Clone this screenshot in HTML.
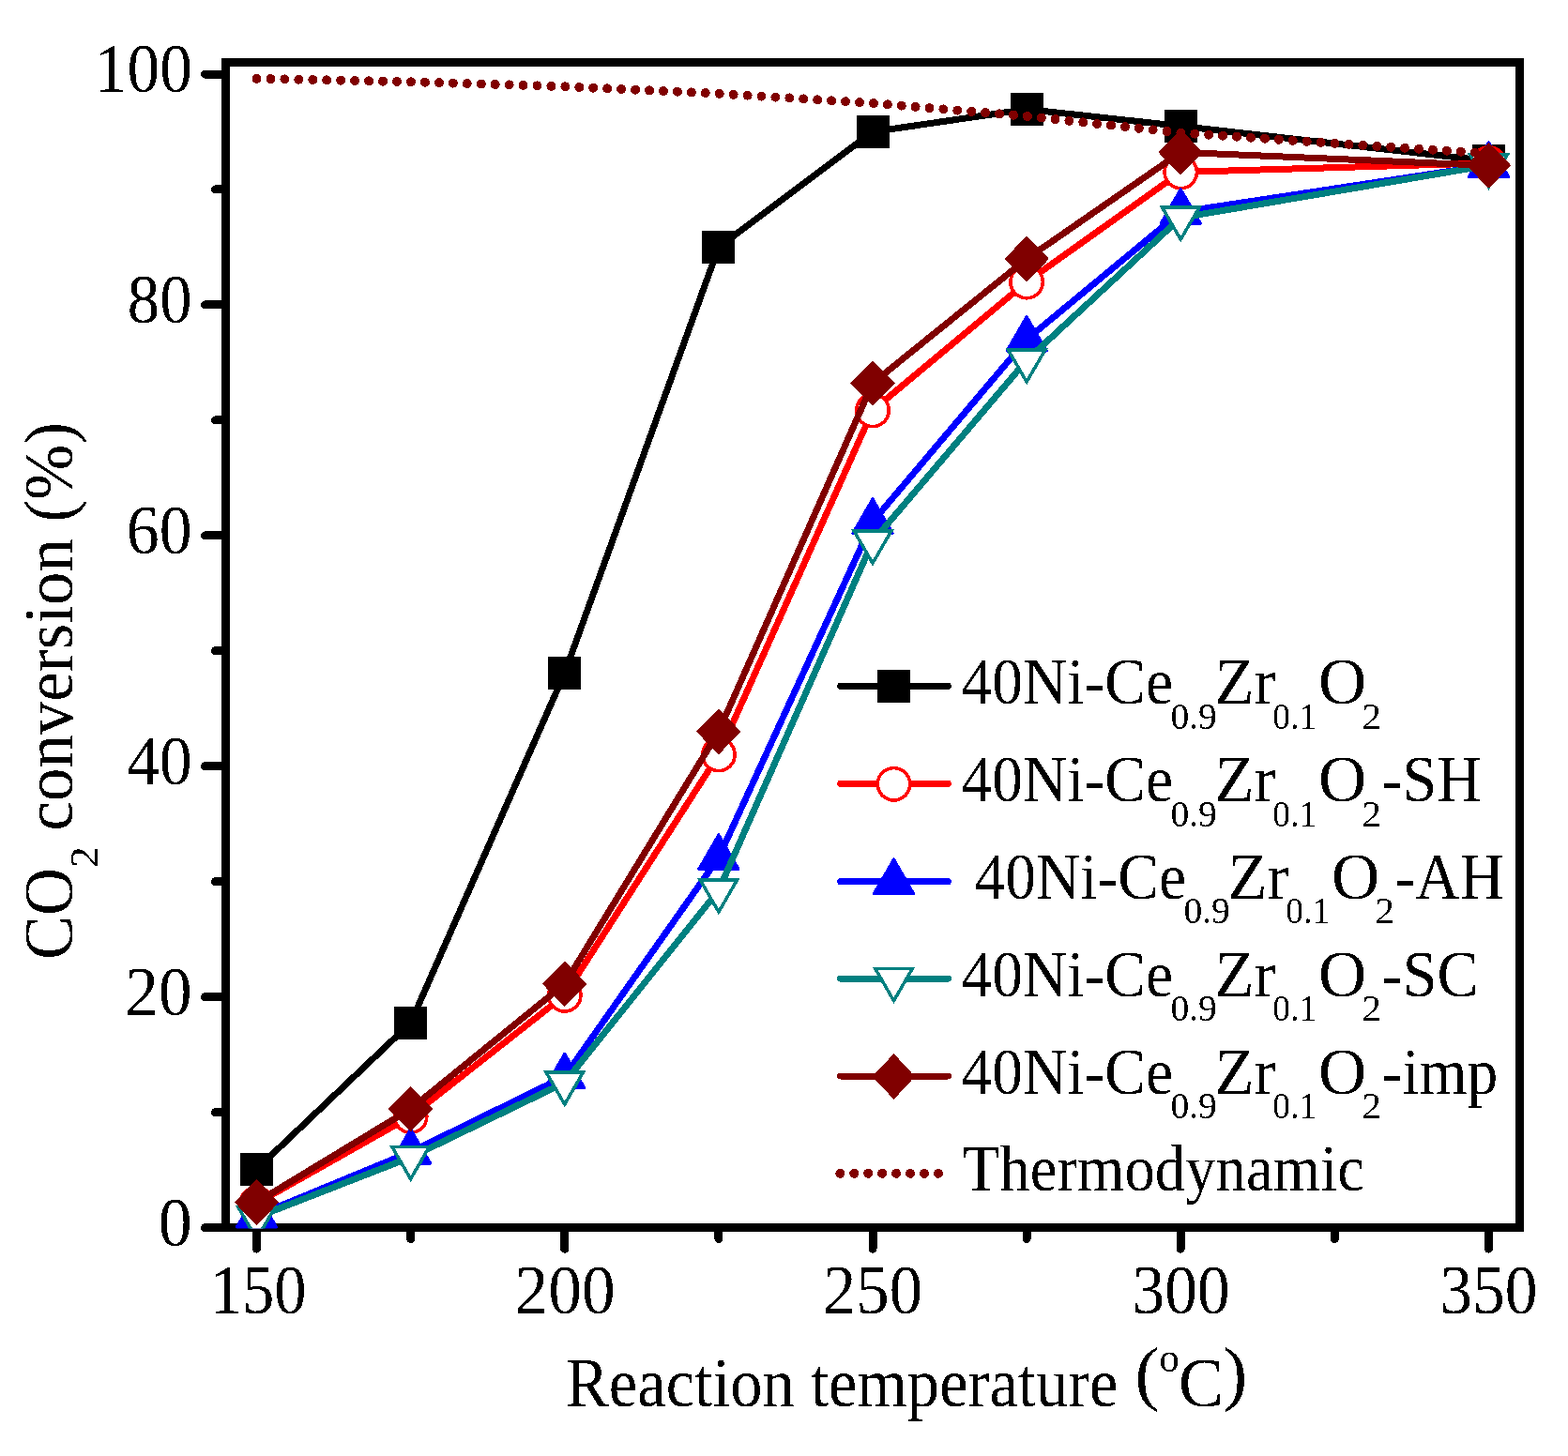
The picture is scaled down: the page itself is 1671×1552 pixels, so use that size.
<!DOCTYPE html><html><head><meta charset="utf-8"><title>CO2 conversion vs reaction temperature</title><style>html,body{margin:0;padding:0;background:#fff;overflow:hidden}svg{display:block}</style></head><body><svg width="1671" height="1552" viewBox="0 0 1671 1552" shape-rendering="crispEdges">
<rect width="100%" height="100%" fill="#fff"/>
<defs><filter id="bin" x="0" y="0" width="1671" height="1552" filterUnits="userSpaceOnUse"><feComponentTransfer><feFuncA type="discrete" tableValues="0 1"/></feComponentTransfer></filter><clipPath id="cp"><rect x="240.5" y="66.5" width="1379.0" height="1243.1"/></clipPath></defs>
<rect x="240.5" y="66.5" width="1379.0" height="1242.0" fill="none" stroke="#000" stroke-width="9" stroke-linejoin="miter"/>
<path d="M218.5,1308.6H240.5M229.5,1185.64H240.5M218.5,1062.68H240.5M229.5,939.72H240.5M218.5,816.76H240.5M229.5,693.8H240.5M218.5,570.84H240.5M229.5,447.88H240.5M218.5,324.92H240.5M229.5,201.96H240.5M218.5,79H240.5M273.5,1308.5V1331.2M437.62,1308.5V1320.5M601.75,1308.5V1331.2M765.88,1308.5V1320.5M930,1308.5V1331.2M1094.12,1308.5V1320.5M1258.25,1308.5V1331.2M1422.38,1308.5V1320.5M1586.5,1308.5V1331.2" stroke="#000" stroke-width="9" stroke-linecap="round" fill="none"/>
<g clip-path="url(#cp)">
<polyline points="273.5,1246.26 437.62,1090.35 601.75,717.41 765.88,263.44 930,140.48 1094.12,116.5 1258.25,134.45 1586.5,171.59" fill="none" stroke="#000000" stroke-width="7" stroke-linejoin="round" stroke-linecap="round"/>
<rect x="256" y="1228.76" width="35" height="35"/>
<rect x="420.12" y="1072.85" width="35" height="35"/>
<rect x="584.25" y="699.91" width="35" height="35"/>
<rect x="748.38" y="245.94" width="35" height="35"/>
<rect x="912.5" y="122.98" width="35" height="35"/>
<rect x="1076.62" y="99" width="35" height="35"/>
<rect x="1240.75" y="116.95" width="35" height="35"/>
<rect x="1569" y="154.09" width="35" height="35"/>
<polyline points="273.5,1282.78 437.62,1190.07 601.75,1060.84 765.88,804.46 930,437.43 1094.12,300.57 1258.25,183.52 1586.5,173.8" fill="none" stroke="#ff0000" stroke-width="7" stroke-linejoin="round" stroke-linecap="round"/>
<circle cx="273.5" cy="1282.78" r="17.2" fill="#fff" stroke="#f00" stroke-width="3.6"/>
<circle cx="437.62" cy="1190.07" r="17.2" fill="#fff" stroke="#f00" stroke-width="3.6"/>
<circle cx="601.75" cy="1060.84" r="17.2" fill="#fff" stroke="#f00" stroke-width="3.6"/>
<circle cx="765.88" cy="804.46" r="17.2" fill="#fff" stroke="#f00" stroke-width="3.6"/>
<circle cx="930" cy="437.43" r="17.2" fill="#fff" stroke="#f00" stroke-width="3.6"/>
<circle cx="1094.12" cy="300.57" r="17.2" fill="#fff" stroke="#f00" stroke-width="3.6"/>
<circle cx="1258.25" cy="183.52" r="17.2" fill="#fff" stroke="#f00" stroke-width="3.6"/>
<circle cx="1586.5" cy="173.8" r="17.2" fill="#fff" stroke="#f00" stroke-width="3.6"/>
<polyline points="273.5,1295.81 437.62,1227.94 601.75,1147.52 765.88,914.14 930,556.08 1094.12,361.81 1258.25,225.94 1586.5,176.14" fill="none" stroke="#0000ff" stroke-width="7" stroke-linejoin="round" stroke-linecap="round"/>
<polygon points="273.5,1271.51 252.35,1308.01 294.65,1308.01" fill="#00f" stroke="#00f" stroke-width="3" stroke-linejoin="round"/>
<polygon points="437.62,1203.64 416.48,1240.14 458.77,1240.14" fill="#00f" stroke="#00f" stroke-width="3" stroke-linejoin="round"/>
<polygon points="601.75,1123.22 580.6,1159.72 622.9,1159.72" fill="#00f" stroke="#00f" stroke-width="3" stroke-linejoin="round"/>
<polygon points="765.88,889.84 744.73,926.34 787.02,926.34" fill="#00f" stroke="#00f" stroke-width="3" stroke-linejoin="round"/>
<polygon points="930,531.78 908.85,568.28 951.15,568.28" fill="#00f" stroke="#00f" stroke-width="3" stroke-linejoin="round"/>
<polygon points="1094.12,337.51 1072.97,374.01 1115.28,374.01" fill="#00f" stroke="#00f" stroke-width="3" stroke-linejoin="round"/>
<polygon points="1258.25,201.64 1237.1,238.14 1279.4,238.14" fill="#00f" stroke="#00f" stroke-width="3" stroke-linejoin="round"/>
<polygon points="1586.5,151.84 1565.35,188.34 1607.65,188.34" fill="#00f" stroke="#00f" stroke-width="3" stroke-linejoin="round"/>
<polyline points="273.5,1297.53 437.62,1233.59 601.75,1154.04 765.88,948.94 930,577.23 1094.12,383.94 1258.25,232.09 1586.5,176.14" fill="none" stroke="#008080" stroke-width="7" stroke-linejoin="round" stroke-linecap="round"/>
<polygon points="253.7,1286.38 293.3,1286.38 273.5,1320.63" fill="#fff" stroke="#008080" stroke-width="3.5"/>
<polygon points="417.82,1222.44 457.43,1222.44 437.62,1256.69" fill="#fff" stroke="#008080" stroke-width="3.5"/>
<polygon points="581.95,1142.89 621.55,1142.89 601.75,1177.14" fill="#fff" stroke="#008080" stroke-width="3.5"/>
<polygon points="746.08,937.79 785.67,937.79 765.88,972.04" fill="#fff" stroke="#008080" stroke-width="3.5"/>
<polygon points="910.2,566.08 949.8,566.08 930,600.33" fill="#fff" stroke="#008080" stroke-width="3.5"/>
<polygon points="1074.33,372.79 1113.92,372.79 1094.12,407.04" fill="#fff" stroke="#008080" stroke-width="3.5"/>
<polygon points="1238.45,220.94 1278.05,220.94 1258.25,255.19" fill="#fff" stroke="#008080" stroke-width="3.5"/>
<polygon points="1566.7,164.99 1606.3,164.99 1586.5,199.24" fill="#fff" stroke="#008080" stroke-width="3.5"/>
<polyline points="273.5,1281.55 437.62,1182.07 601.75,1048.79 765.88,779.87 930,408.41 1094.12,275.98 1258.25,162.37 1586.5,176.38" fill="none" stroke="#800000" stroke-width="7" stroke-linejoin="round" stroke-linecap="round"/>
<polygon points="273.5,1258.25 296.3,1281.55 273.5,1304.85 250.7,1281.55" fill="#800000" stroke="#800000" stroke-width="1.5" stroke-linejoin="round"/>
<polygon points="437.62,1158.77 460.43,1182.07 437.62,1205.37 414.82,1182.07" fill="#800000" stroke="#800000" stroke-width="1.5" stroke-linejoin="round"/>
<polygon points="601.75,1025.49 624.55,1048.79 601.75,1072.09 578.95,1048.79" fill="#800000" stroke="#800000" stroke-width="1.5" stroke-linejoin="round"/>
<polygon points="765.88,756.57 788.67,779.87 765.88,803.17 743.08,779.87" fill="#800000" stroke="#800000" stroke-width="1.5" stroke-linejoin="round"/>
<polygon points="930,385.11 952.8,408.41 930,431.71 907.2,408.41" fill="#800000" stroke="#800000" stroke-width="1.5" stroke-linejoin="round"/>
<polygon points="1094.12,252.68 1116.92,275.98 1094.12,299.28 1071.33,275.98" fill="#800000" stroke="#800000" stroke-width="1.5" stroke-linejoin="round"/>
<polygon points="1258.25,139.07 1281.05,162.37 1258.25,185.67 1235.45,162.37" fill="#800000" stroke="#800000" stroke-width="1.5" stroke-linejoin="round"/>
<polygon points="1586.5,153.08 1609.3,176.38 1586.5,199.68 1563.7,176.38" fill="#800000" stroke="#800000" stroke-width="1.5" stroke-linejoin="round"/>
<path d="M273.50,83.79 L437.62,87.24 L601.75,92.27 L765.88,99.75 L930.00,110.04 L1094.12,123.82 L1258.25,141.60 L1422.38,152.89 L1586.50,163.62" fill="none" stroke="#800000" stroke-width="10" stroke-linecap="round" stroke-dasharray="0 14.955"/>
</g>
<line x1="895.7" y1="731.3" x2="1010.3" y2="731.3" stroke="#000000" stroke-width="7" stroke-linecap="round"/>
<rect x="935" y="714.3" width="35" height="35"/>
<line x1="895.7" y1="835.3" x2="1010.3" y2="835.3" stroke="#ff0000" stroke-width="7" stroke-linecap="round"/>
<circle cx="952.5" cy="835.8" r="17.2" fill="#fff" stroke="#f00" stroke-width="3.6"/>
<line x1="895.7" y1="939.8" x2="1010.3" y2="939.8" stroke="#0000ff" stroke-width="7" stroke-linecap="round"/>
<polygon points="952.5,916 931.35,952.5 973.65,952.5" fill="#00f" stroke="#00f" stroke-width="3" stroke-linejoin="round"/>
<line x1="895.7" y1="1043.1" x2="1010.3" y2="1043.1" stroke="#008080" stroke-width="7" stroke-linecap="round"/>
<polygon points="932.7,1032.45 972.3,1032.45 952.5,1066.7" fill="#fff" stroke="#008080" stroke-width="3.5"/>
<line x1="895.7" y1="1147.0" x2="1010.3" y2="1147.0" stroke="#800000" stroke-width="7" stroke-linecap="round"/>
<polygon points="952.5,1124.2 974.2,1147.5 952.5,1170.8 930.8,1147.5" fill="#800000" stroke="#800000" stroke-width="1.5" stroke-linejoin="round"/>
<line x1="895.3" y1="1250.8" x2="1000" y2="1250.8" stroke="#800000" stroke-width="10" stroke-linecap="round" stroke-dasharray="0 14.95"/>
<g font-family="'Liberation Serif','Times New Roman',serif" fill="#000" style="font-kerning:none" filter="url(#bin)">
<text transform="translate(168.76,1327.9) scale(0.9725,1)" font-size="74">0</text>
<text transform="translate(133.36,1081.98) scale(0.9642,1)" font-size="74">20</text>
<text transform="translate(135.14,836.06) scale(0.9393,1)" font-size="74">40</text>
<text transform="translate(134.8,590.14) scale(0.9441,1)" font-size="74">60</text>
<text transform="translate(135.78,344.22) scale(0.9289,1)" font-size="74">80</text>
<text transform="translate(100.91,98.3) scale(0.9363,1)" font-size="74">100</text>
<text transform="translate(223.56,1399.5) scale(0.9284,1)" font-size="74">150</text>
<text transform="translate(548.46,1399.5) scale(0.9654,1)" font-size="74">200</text>
<text transform="translate(876.89,1399.5) scale(0.9568,1)" font-size="74">250</text>
<text transform="translate(1206.58,1399.5) scale(0.9385,1)" font-size="74">300</text>
<text transform="translate(1534.27,1399.5) scale(0.9404,1)" font-size="74">350</text>
<text transform="translate(603.02,1499) scale(0.9398,1)" font-size="73">Reaction temperature</text>
<text transform="translate(1209.46,1488.59) scale(0.7826,0.7566)" font-size="100">(</text>
<text transform="translate(1235.15,1461.57) scale(0.4341,0.4387)" font-size="100">o</text>
<text transform="translate(1255.95,1499.07) scale(0.7183,0.7427)" font-size="100">C</text>
<text transform="translate(1303.27,1488.59) scale(0.7865,0.7566)" font-size="100">)</text>
<text transform="translate(77,1022.89) rotate(-90) scale(0.9511,1)" font-size="74">CO</text>
<text transform="translate(104,924.77) rotate(-90) scale(1.0516,1)" font-size="42.7">2</text>
<text transform="translate(77,885.6) rotate(-90) scale(0.9595,1)" font-size="74">conversion (%)</text>
<text transform="translate(1024.52,750) scale(0.9496,1)" font-size="69">40Ni-Ce</text>
<text transform="translate(1247.39,776.6) scale(0.9907,1)" font-size="40">0.9</text>
<text transform="translate(1294.19,750) scale(1.0030,1)" font-size="69">Zr</text>
<text transform="translate(1356.37,776.6) scale(0.9354,1)" font-size="40">0.1</text>
<text transform="translate(1404.88,750) scale(1.0301,1)" font-size="69">O</text>
<text transform="translate(1451.49,776.6) scale(1.0138,1)" font-size="40.6">2</text>
<text transform="translate(1024.52,853.9) scale(0.9496,1)" font-size="69">40Ni-Ce</text>
<text transform="translate(1247.39,880.5) scale(0.9907,1)" font-size="40">0.9</text>
<text transform="translate(1294.19,853.9) scale(1.0030,1)" font-size="69">Zr</text>
<text transform="translate(1356.37,880.5) scale(0.9354,1)" font-size="40">0.1</text>
<text transform="translate(1404.88,853.9) scale(1.0301,1)" font-size="69">O</text>
<text transform="translate(1451.49,880.5) scale(1.0138,1)" font-size="40.6">2</text>
<text transform="translate(1472.65,853.9) scale(0.9559,1)" font-size="69">-SH</text>
<text transform="translate(1038.52,957.8) scale(0.9496,1)" font-size="69">40Ni-Ce</text>
<text transform="translate(1261.39,984.4) scale(0.9907,1)" font-size="40">0.9</text>
<text transform="translate(1308.19,957.8) scale(1.0030,1)" font-size="69">Zr</text>
<text transform="translate(1370.37,984.4) scale(0.9354,1)" font-size="40">0.1</text>
<text transform="translate(1418.88,957.8) scale(1.0301,1)" font-size="69">O</text>
<text transform="translate(1465.49,984.4) scale(1.0138,1)" font-size="40.6">2</text>
<text transform="translate(1486.57,957.8) scale(0.9487,1)" font-size="69">-AH</text>
<text transform="translate(1024.52,1061.8) scale(0.9496,1)" font-size="69">40Ni-Ce</text>
<text transform="translate(1247.39,1088.4) scale(0.9907,1)" font-size="40">0.9</text>
<text transform="translate(1294.19,1061.8) scale(1.0030,1)" font-size="69">Zr</text>
<text transform="translate(1356.37,1088.4) scale(0.9354,1)" font-size="40">0.1</text>
<text transform="translate(1404.88,1061.8) scale(1.0301,1)" font-size="69">O</text>
<text transform="translate(1451.49,1088.4) scale(1.0138,1)" font-size="40.6">2</text>
<text transform="translate(1472.64,1061.8) scale(0.9593,1)" font-size="69">-SC</text>
<text transform="translate(1024.52,1165.7) scale(0.9496,1)" font-size="69">40Ni-Ce</text>
<text transform="translate(1247.39,1192.3) scale(0.9907,1)" font-size="40">0.9</text>
<text transform="translate(1294.19,1165.7) scale(1.0030,1)" font-size="69">Zr</text>
<text transform="translate(1356.37,1192.3) scale(0.9354,1)" font-size="40">0.1</text>
<text transform="translate(1404.88,1165.7) scale(1.0301,1)" font-size="69">O</text>
<text transform="translate(1451.49,1192.3) scale(1.0138,1)" font-size="40.6">2</text>
<text transform="translate(1472.67,1165.7) scale(0.9491,1)" font-size="69">-imp</text>
<text transform="translate(1025.73,1269) scale(0.9391,1)" font-size="69">Thermodynamic</text>
</g>
</svg></body></html>
